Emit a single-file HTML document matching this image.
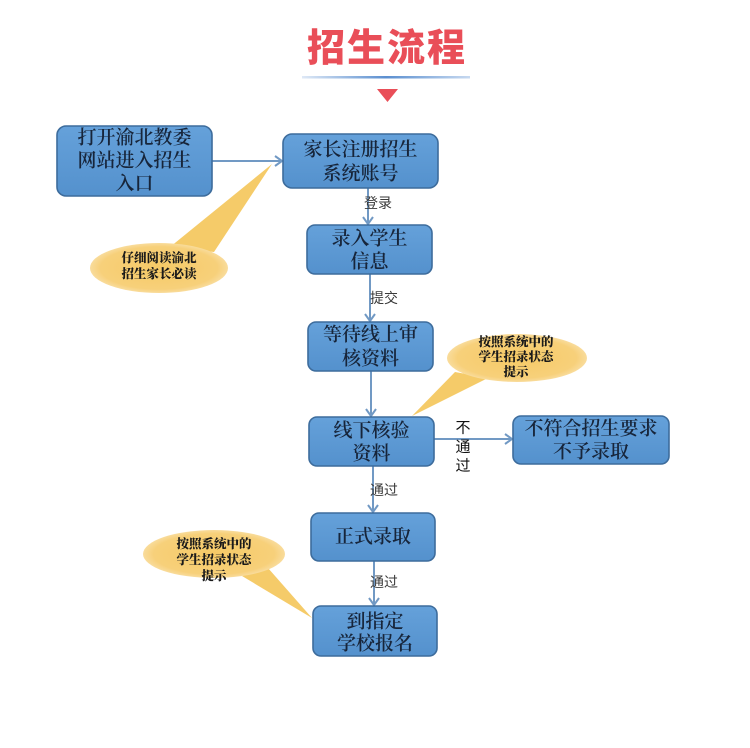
<!DOCTYPE html>
<html><head><meta charset="utf-8"><style>
html,body{margin:0;padding:0;background:#fff;}
svg{display:block;}
.bx{fill:url(#bg);stroke:#3d6c9c;stroke-width:1.6;}
.bt{font-family:"Liberation Serif","Noto Serif CJK SC",serif;font-size:19px;font-weight:600;fill:#17253a;text-anchor:middle;dominant-baseline:central;}
.lb{font-family:"Liberation Sans","Noto Sans CJK SC",sans-serif;font-size:14px;fill:#3a3a3a;dominant-baseline:central;}
.et{font-family:"Liberation Serif","Noto Serif CJK SC",serif;font-size:12.5px;font-weight:900;fill:#1a1a1a;text-anchor:middle;dominant-baseline:central;}
.ar{stroke:#7199c4;stroke-width:2;fill:none;}
.ah{stroke:#7199c4;stroke-width:2;fill:none;stroke-linejoin:miter;}
.wg{fill:#f5cb69;}
</style></head><body>
<svg width="750" height="748" viewBox="0 0 750 748" xmlns="http://www.w3.org/2000/svg">
<defs>
<linearGradient id="bg" x1="0" y1="0" x2="0" y2="1">
<stop offset="0" stop-color="#65a1da"/><stop offset="1" stop-color="#5491cd"/>
</linearGradient>
<radialGradient id="eg" cx="0.5" cy="0.5" r="0.5">
<stop offset="0" stop-color="#f6ca66"/><stop offset="0.85" stop-color="#f7d07a"/><stop offset="1" stop-color="#f9dc9c"/>
</radialGradient>
<linearGradient id="ul" x1="0" y1="0" x2="1" y2="0">
<stop offset="0" stop-color="#dfe9f6"/><stop offset="0.5" stop-color="#5b8fd0"/><stop offset="1" stop-color="#c7d9f0"/>
</linearGradient>
</defs>
<rect width="750" height="748" fill="#fff"/>

<text x="387" y="61" text-anchor="middle" font-family="'Liberation Sans','Noto Sans CJK SC',sans-serif" font-size="38" font-weight="900" letter-spacing="2" fill="#e94e58">招生流程</text>
<rect x="302" y="76" width="168" height="2.5" fill="url(#ul)"/>
<polygon points="377,89 398,89 387.5,102" fill="#e94e58"/>

<polygon class="wg" points="170,247 272,164 214,252"/>
<polygon class="wg" points="455,372 412,416 488,378"/>
<polygon class="wg" points="242,576 312,618 268,568"/>

<ellipse cx="159" cy="268" rx="69" ry="25" fill="url(#eg)"/>
<ellipse cx="517" cy="358" rx="70" ry="24" fill="url(#eg)"/>
<ellipse cx="214" cy="554" rx="71" ry="24" fill="url(#eg)"/>
<text class="et" x="159" y="258">仔细阅读渝北</text>
<text class="et" x="159" y="274">招生家长必读</text>
<text class="et" x="516" y="342">按照系统中的</text>
<text class="et" x="516" y="357">学生招录状态</text>
<text class="et" x="516" y="372">提示</text>
<text class="et" x="214" y="544">按照系统中的</text>
<text class="et" x="214" y="560">学生招录状态</text>
<text class="et" x="214" y="576">提示</text>

<line class="ar" x1="212" y1="161" x2="282" y2="161"/>
<polyline class="ah" points="275,156 282,161 275,166"/>
<line class="ar" x1="368" y1="188" x2="368" y2="224"/>
<polyline class="ah" points="363,217 368,224 373,217"/>
<line class="ar" x1="370" y1="274" x2="370" y2="321"/>
<polyline class="ah" points="365,314 370,321 375,314"/>
<line class="ar" x1="371" y1="371" x2="371" y2="416"/>
<polyline class="ah" points="366,409 371,416 376,409"/>
<line class="ar" x1="434" y1="439" x2="512" y2="439"/>
<polyline class="ah" points="505,434 512,439 505,444"/>
<line class="ar" x1="373" y1="466" x2="373" y2="512"/>
<polyline class="ah" points="368,505 373,512 378,505"/>
<line class="ar" x1="374" y1="561" x2="374" y2="605"/>
<polyline class="ah" points="369,598 374,605 379,598"/>

<text class="lb" x="364" y="203">登录</text>
<text class="lb" x="370" y="298">提交</text>
<text class="lb" x="370" y="490">通过</text>
<text class="lb" x="370" y="582">通过</text>
<text class="lb" x="463" y="428" text-anchor="middle" style="font-size:15px;fill:#111">不</text>
<text class="lb" x="463" y="447" text-anchor="middle" style="font-size:15px;fill:#111">通</text>
<text class="lb" x="463" y="466" text-anchor="middle" style="font-size:15px;fill:#111">过</text>

<rect class="bx" x="57" y="126" width="155" height="70" rx="9"/>
<text class="bt" x="134.5" y="138">打开渝北教委</text>
<text class="bt" x="134.5" y="161">网站进入招生</text>
<text class="bt" x="134.5" y="184">入口</text>

<rect class="bx" x="283" y="134" width="155" height="54" rx="9"/>
<text class="bt" x="360.5" y="150">家长注册招生</text>
<text class="bt" x="360.5" y="174">系统账号</text>

<rect class="bx" x="307" y="225" width="125" height="49" rx="8"/>
<text class="bt" x="369.5" y="239">录入学生</text>
<text class="bt" x="369.5" y="262">信息</text>

<rect class="bx" x="308" y="322" width="125" height="49" rx="8"/>
<text class="bt" x="370.5" y="335">等待线上审</text>
<text class="bt" x="370.5" y="359">核资料</text>

<rect class="bx" x="309" y="417" width="125" height="49" rx="8"/>
<text class="bt" x="371.5" y="431">线下核验</text>
<text class="bt" x="371.5" y="454">资料</text>

<rect class="bx" x="513" y="416" width="156" height="48" rx="8"/>
<text class="bt" x="591" y="429">不符合招生要求</text>
<text class="bt" x="591" y="452">不予录取</text>

<rect class="bx" x="311" y="513" width="124" height="48" rx="8"/>
<text class="bt" x="373" y="537">正式录取</text>

<rect class="bx" x="313" y="606" width="124" height="50" rx="8"/>
<text class="bt" x="375" y="622">到指定</text>
<text class="bt" x="375" y="644">学校报名</text>
</svg>
</body></html>
